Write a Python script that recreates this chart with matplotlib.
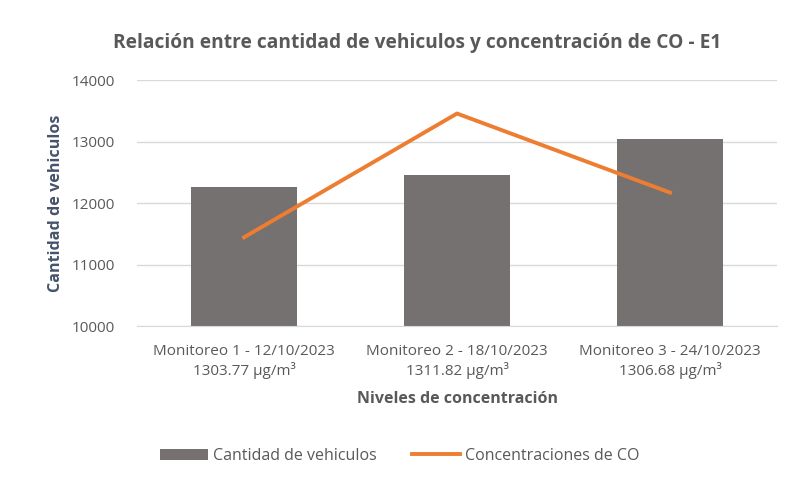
import matplotlib.pyplot as plt
import numpy as np

plt.rcParams["font.family"] = ["Open Sans", "DejaVu Sans"]

monitoreos = ["Monitoreo 1 - 12/10/2023", "Monitoreo 2 - 18/10/2023", "Monitoreo 3 - 24/10/2023"]
concentraciones = [1303.77, 1311.82, 1306.68]
vehiculos = [12255, 12455, 13035]

BAR_COLOR = "#767171"
LINE_COLOR = "#ED7D31"
TEXT_COLOR = "#595959"
GRID_COLOR = "#D9D9D9"

labels = [f"{m}\n{c:.2f} µg/m³" for m, c in zip(monitoreos, concentraciones)]
x = np.arange(len(monitoreos))

fig = plt.figure(figsize=(7.87, 4.84), dpi=100)
ax = fig.add_axes([0.1747, 0.3264, 0.812, 0.5083])

ax.bar(x, vehiculos, width=0.5, color=BAR_COLOR, zorder=2, label="Cantidad de vehiculos")
ax.set_ylim(10000, 14000)
ax.set_yticks(np.arange(10000, 14001, 1000))
ax.set_xlim(-0.5, 2.5)
ax.set_xticks(x)
ax.set_xticklabels(labels, color=TEXT_COLOR, fontsize=11, linespacing=1.2)
ax.tick_params(axis="y", colors=TEXT_COLOR, labelsize=11, length=0, pad=16)
ax.tick_params(axis="x", length=0, pad=13)
ax.yaxis.grid(True, color=GRID_COLOR, linewidth=1, zorder=0)
ax.set_axisbelow(True)
for side in ["top", "right", "left"]:
    ax.spines[side].set_visible(False)
ax.spines["bottom"].set_color(GRID_COLOR)

ax.set_ylabel("Cantidad de vehiculos", color="#44546A", fontsize=11.6, fontweight="bold", labelpad=6)
ax.set_xlabel("Niveles de concentración", color=TEXT_COLOR, fontsize=11.5, fontweight="bold", labelpad=9)

ax2 = ax.twinx()
ax2.plot(x, concentraciones, color=LINE_COLOR, linewidth=2.8, zorder=3, label="Concentraciones de CO")
ax2.set_ylim(1298, 1314)
ax2.set_yticks([])
for side in ["top", "right", "left", "bottom"]:
    ax2.spines[side].set_visible(False)

fig.text(0.53, 0.911, "Relación entre cantidad de vehiculos y concentración de CO - E1",
         ha="center", va="center", color=TEXT_COLOR, fontsize=13.8, fontweight="bold")

handles = [ax.patches[0], ax2.lines[0]]
fig.legend(handles, ["Cantidad de vehiculos", "Concentraciones de CO"],
           loc="center", bbox_to_anchor=(0.508, 0.058), ncol=2, frameon=False,
           fontsize=11.5, labelcolor=TEXT_COLOR, handlelength=3.0, handleheight=0.7,
           columnspacing=2.2, handletextpad=0.3)

fig.savefig("out.png", dpi=100)
